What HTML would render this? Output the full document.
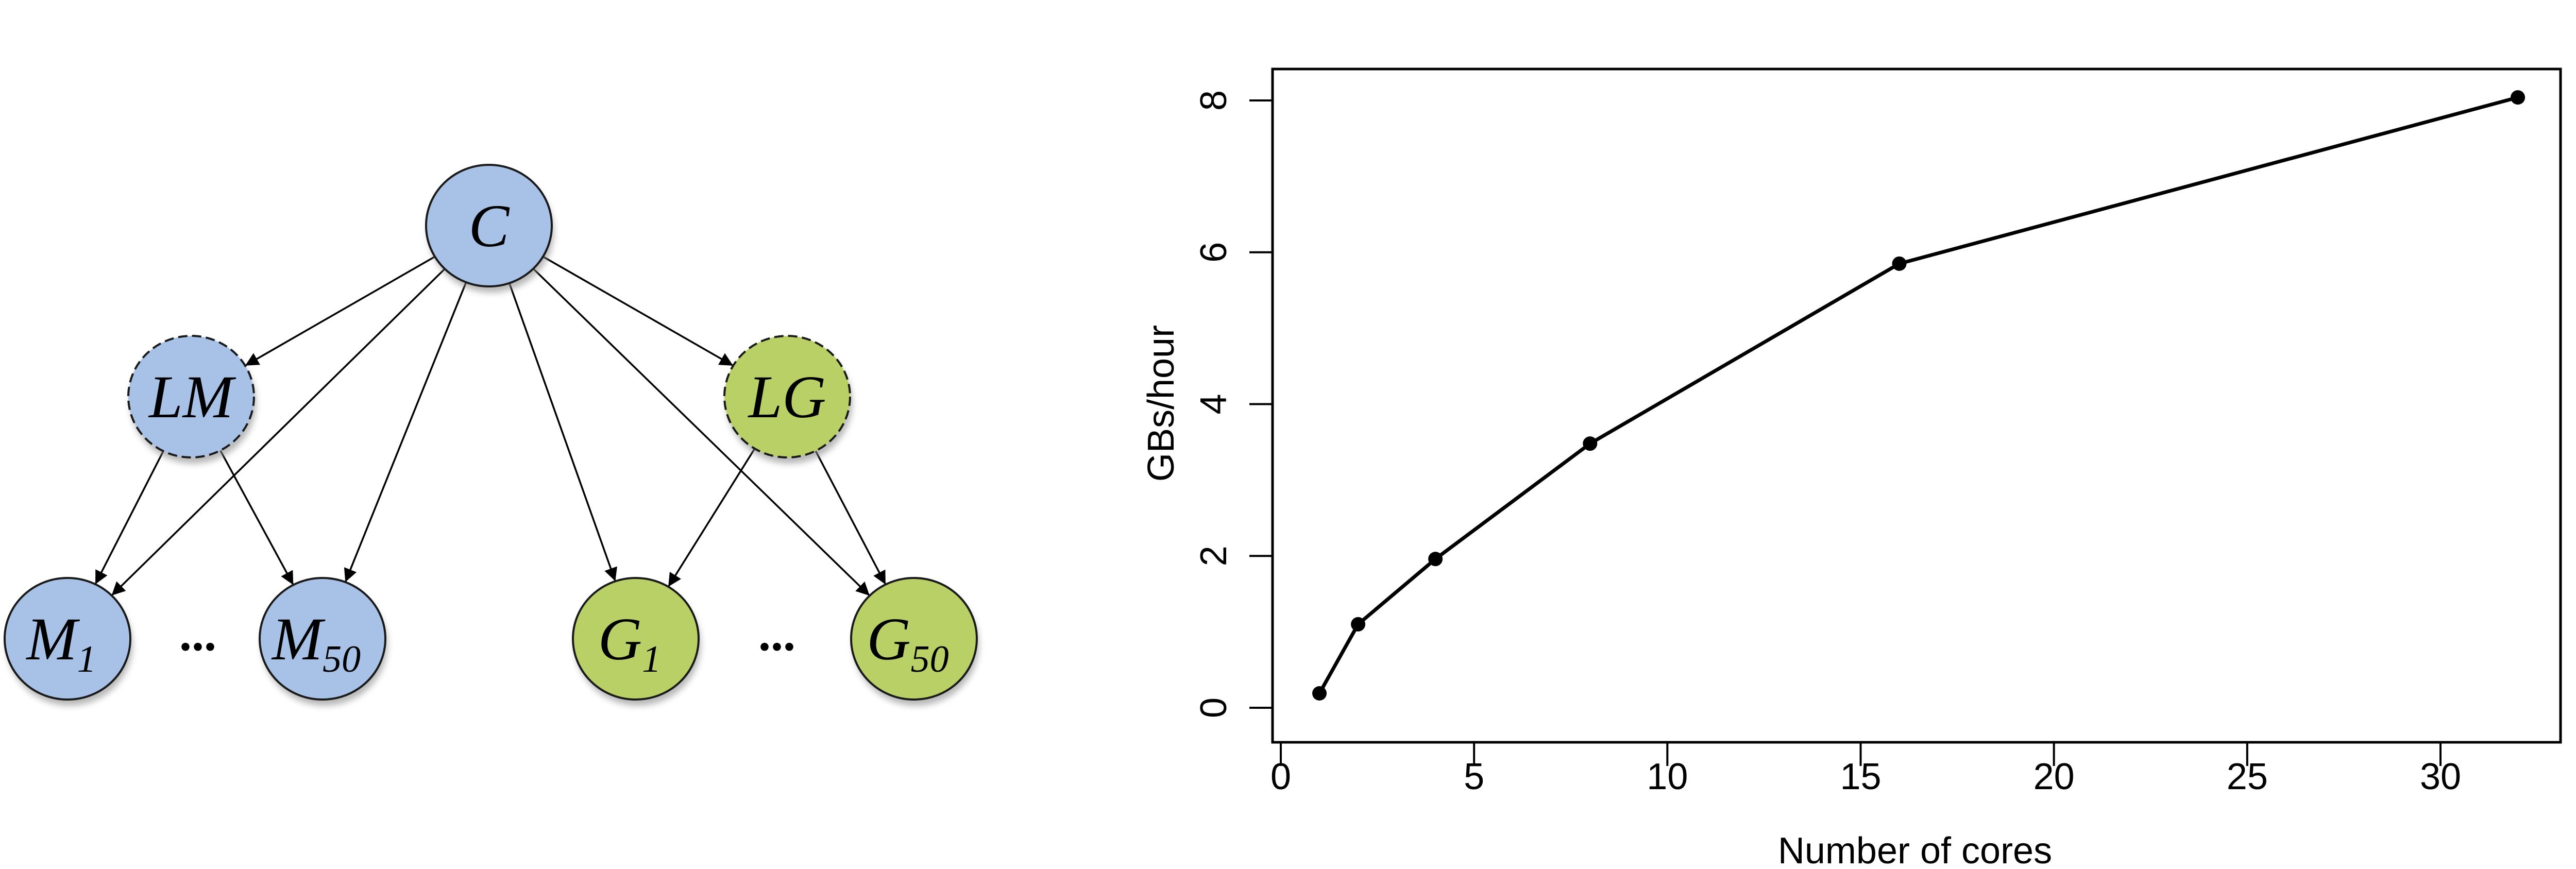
<!DOCTYPE html>
<html><head><meta charset="utf-8"><style>
html,body{margin:0;padding:0;background:#fff;}
svg{display:block;}
</style></head><body>
<svg id="fig" width="5112" height="1687" viewBox="0 0 5112 1687" xmlns="http://www.w3.org/2000/svg">
<defs>
<marker id="arr" viewBox="0 0 10 10" refX="10" refY="5" markerWidth="34" markerHeight="26" markerUnits="userSpaceOnUse" orient="auto">
<path d="M0,0 L10,5 L0,10 z" fill="#000"/>
</marker>
<filter id="sh" x="-30%" y="-30%" width="160%" height="170%"><feGaussianBlur stdDeviation="6"/></filter>
</defs>
<g id="diagram"></g>
<g id="chart"></g>
</svg>
<script>
const NS='http://www.w3.org/2000/svg';
// ---- chart data ----
const cores=[1,2,4,8,16,32];
const gbsPerHour=[0.19,1.1,1.96,3.48,5.85,8.04];
const xTicks=[0,5,10,15,20,25,30];
const yTicks=[0,2,4,6,8];
const xTitle='Number of cores';
const yTitle='GBs/hour';

function mk(tag,attrs,parent){const e=document.createElementNS(NS,tag);for(const k in attrs)e.setAttribute(k,attrs[k]);parent.appendChild(e);return e;}

const chart=document.getElementById('chart');
const box={l:2470,r:4970,t:134,b:1441};
const xS=v=>2486+(4737-2486)*v/30;
const yS=v=>1374-(1374-195)*v/8;

const frame=mk('rect',{x:box.l,y:box.t,width:box.r-box.l,height:box.b-box.t,fill:'none',stroke:'#000','stroke-width':5},chart);



xTicks.forEach(v=>{
  const t=mk('line',{x1:xS(v),x2:xS(v),y1:box.b,y2:box.b+46,stroke:'#000','stroke-width':4},chart);
  
  
  const l=mk('text',{x:xS(v),y:1532,'font-size':72,'text-anchor':'middle','font-family':'Liberation Sans, sans-serif'},chart);
  l.textContent=v;
  
  
});
yTicks.forEach(v=>{
  const t=mk('line',{x1:box.l-45,x2:box.l,y1:yS(v),y2:yS(v),stroke:'#000','stroke-width':4},chart);
  
  
  const l=mk('text',{x:0,y:0,'font-size':72,'text-anchor':'middle','font-family':'Liberation Sans, sans-serif',transform:`translate(2380,${yS(v)}) rotate(-90)`},chart);
  l.textContent=v;
  
  
});
const xt=mk('text',{x:3717,y:1676,'font-size':72,'text-anchor':'middle','font-family':'Liberation Sans, sans-serif'},chart);
xt.textContent=xTitle;


const yt=mk('text',{x:0,y:0,'font-size':72,'text-anchor':'middle','font-family':'Liberation Sans, sans-serif',transform:'translate(2278,783) rotate(-90)'},chart);
yt.textContent=yTitle;



const pts=cores.map((c,i)=>xS(c)+','+yS(gbsPerHour[i])).join(' ');
const line=mk('polyline',{points:pts,fill:'none',stroke:'#000','stroke-width':7,'stroke-linejoin':'round'},chart);


cores.forEach((c,i)=>{
  const p=mk('circle',{cx:xS(c),cy:yS(gbsPerHour[i]),r:14,fill:'#000'},chart);
  
  
});

// ---- diagram ----
const dg=document.getElementById('diagram');
const BLUE='#a8c2e7',GREEN='#b8d065';
const RX=122,RY=118;
const nodes={
 C:{x:949,y:438,c:BLUE,t:'C',s:'',d:false},
 LM:{x:371,y:770,c:BLUE,t:'LM',s:'',d:true},
 LG:{x:1528,y:770,c:GREEN,t:'LG',s:'',d:true},
 M1:{x:131,y:1240,c:BLUE,t:'M',s:'1',d:false},
 M50:{x:626,y:1240,c:BLUE,t:'M',s:'50',d:false},
 G1:{x:1234,y:1240,c:GREEN,t:'G',s:'1',d:false},
 G50:{x:1774,y:1240,c:GREEN,t:'G',s:'50',d:false}
};
const edges=[['C','LM'],['C','M1'],['C','M50'],['C','G1'],['C','G50'],['C','LG'],['LM','M1'],['LM','M50'],['LG','G1'],['LG','G50']];
function clip(n,dx,dy){const t=1/Math.sqrt((dx*dx)/(RX*RX)+(dy*dy)/(RY*RY));return [n.x+dx*t,n.y+dy*t];}
edges.forEach(([a,b])=>{
  const A=nodes[a],B=nodes[b];const dx=B.x-A.x,dy=B.y-A.y;
  const p1=clip(A,dx,dy),p2=clip(B,-dx,-dy);
  const e=mk('line',{x1:p1[0],y1:p1[1],x2:p2[0],y2:p2[1],stroke:'#000','stroke-width':3.5,'marker-end':'url(#arr)'},dg);
  
  
});
for(const k in nodes){
  const n=nodes[k];
  const g=mk('g',{},dg);
  
  
  mk('ellipse',{cx:n.x+4,cy:n.y+12,rx:RX,ry:RY,fill:'#888',opacity:0.6,filter:'url(#sh)'},g);
  mk('ellipse',{cx:n.x,cy:n.y,rx:RX,ry:RY,fill:n.c,stroke:'#1a1a1a','stroke-width':4,'stroke-dasharray':n.d?'18 9':'none'},g);
  const t=mk('text',{x:n.x-(n.s?12:0),y:n.y+40,'font-size':118,'font-style':'italic','text-anchor':'middle','font-family':'Liberation Serif, serif'},g);
  t.textContent=n.t;
  if(n.s){const s=mk('tspan',{'font-size':74,dy:24},t);s.textContent=n.s;}
}
[[384,1240],[1508,1240]].forEach((p,i)=>{
  const t=mk('text',{x:p[0],y:p[1]+22,'font-size':96,'font-weight':'bold','text-anchor':'middle','font-family':'Liberation Serif, serif'},dg);
  t.textContent='...';
  
  
});
</script>
</body></html>
